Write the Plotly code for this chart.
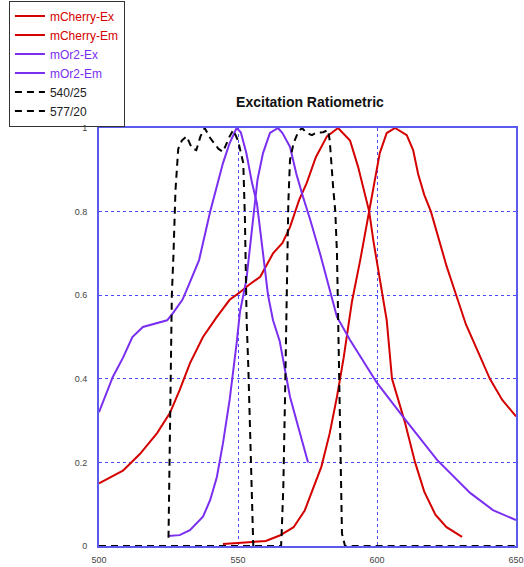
import plotly.graph_objects as go

# ---- data ----
mcherry_ex_x = [500, 508.6, 514.7, 520.9, 525.5, 529, 532.7, 537.4, 542.4, 547, 550.7, 554, 558, 562.6, 566,
                568.7, 572, 574.7, 578, 582, 586, 590.3, 593.2, 595, 597.2, 598.7, 600.5, 602.2, 603.5, 605.4,
                610, 613.7, 617, 621, 625, 630.6]
mcherry_ex_y = [0.15, 0.18, 0.22, 0.27, 0.318, 0.373, 0.437, 0.5, 0.548, 0.589, 0.607, 0.625, 0.644, 0.70, 0.725,
                0.763, 0.828, 0.868, 0.93, 0.98, 1.0, 0.97, 0.907, 0.86, 0.8, 0.73, 0.66, 0.589, 0.54, 0.40,
                0.297, 0.2, 0.13, 0.075, 0.045, 0.022]

mcherry_em_x = [544.6, 550, 555, 560, 565, 570, 574, 576, 578, 580, 583, 585.6, 588, 591, 594, 597.2, 599.3,
                601, 603.5, 606.5, 610.7, 613, 614.8, 617, 619.4, 622, 625, 628.5, 632, 636, 640.6,
                645, 650]
mcherry_em_y = [0.005, 0.007, 0.009, 0.012, 0.025, 0.045, 0.085, 0.12, 0.15, 0.19, 0.27, 0.357, 0.45, 0.585, 0.685,
                0.8, 0.876, 0.94, 0.988, 1.0, 0.983, 0.947, 0.89, 0.84, 0.8, 0.74, 0.67, 0.6, 0.53,
                0.47, 0.4, 0.35, 0.31]

mor2_ex_x = [500, 505, 508.6, 512, 515.8, 520.9, 524.5, 526.6, 530, 532, 536, 540, 542.4, 544.6, 547, 549.5,
             551, 553, 555, 556.8, 559, 560.8, 562.6, 565, 567.5, 568.7, 572, 575.2]
mor2_ex_y = [0.32, 0.405, 0.45, 0.5, 0.524, 0.533, 0.54, 0.557, 0.589, 0.62, 0.684, 0.8, 0.86, 0.916, 0.964, 1.0,
             0.99, 0.94, 0.87, 0.82, 0.70, 0.6, 0.54, 0.49, 0.40, 0.357, 0.277, 0.2]

mor2_em_x = [524.8, 529, 532.7, 537.4, 540, 542.4, 544.6, 547, 549.5, 550.7, 553, 555.4, 557, 559, 561.5, 564.4,
             566, 568.7, 571, 573.4, 576, 579.5, 583, 585.6, 590.3, 600, 609.4, 621.6, 633.5, 641.7, 650]
mor2_em_y = [0.024, 0.026, 0.038, 0.07, 0.11, 0.165, 0.246, 0.35, 0.485, 0.56, 0.636, 0.78, 0.876, 0.94, 0.988,
             1.0, 0.988, 0.955, 0.89, 0.835, 0.78, 0.70, 0.612, 0.548, 0.493, 0.39, 0.309, 0.206, 0.127, 0.086,
             0.062]

f540_x = [525, 525.3, 525.7, 526.2, 526.8, 527.5, 528.5, 529.8, 531.5, 533.4, 535, 536.5, 538, 540, 543, 544.6,
          547, 548.3, 550, 551.9, 552.5, 553.1, 553.7, 554.3, 554.9, 555.5, 557]
f540_y = [0.02, 0.2, 0.45, 0.6, 0.7, 0.85, 0.95, 0.97, 0.98, 0.952, 0.947, 0.98, 1.0, 0.976, 0.95, 0.943,
          0.98, 0.995, 0.97, 0.916, 0.78, 0.54, 0.43, 0.27, 0.11, 0.0, 0.0]

f577_x = [500, 565.5, 565.7, 566.3, 566.9, 567.5, 568.1, 568.7, 570, 571.6, 573, 574.7, 576.6, 578, 580.6, 582.4,
          583, 584.2, 585, 585.6, 586, 586.6, 587.4, 588.5, 650]
f577_y = [0, 0, 0.03, 0.14, 0.35, 0.59, 0.82, 0.923, 0.964, 0.99, 1.0, 0.988, 0.983, 0.988, 0.99, 0.995,
          0.97, 0.86, 0.8, 0.70, 0.54, 0.3, 0.03, 0, 0]

x_ticks = [500, 550, 600, 650]
y_ticks = [0, 0.2, 0.4, 0.6, 0.8, 1]
y_ticktext = ["0", "0.2", "0.4", "0.6", "0.8", "1"]

RED = "#d40000"
PURPLE = "#7a2ef0"
BLACK = "#000000"

def lab(t, c):
    return f"<span style='color:{c}'>{t}</span>"

fig = go.Figure()
fig.add_trace(go.Scatter(x=mcherry_ex_x, y=mcherry_ex_y, mode="lines", name=lab("mCherry-Ex", RED),
                         line=dict(color=RED, width=2)))
fig.add_trace(go.Scatter(x=mcherry_em_x, y=mcherry_em_y, mode="lines", name=lab("mCherry-Em", RED),
                         line=dict(color=RED, width=2)))
fig.add_trace(go.Scatter(x=mor2_ex_x, y=mor2_ex_y, mode="lines", name=lab("mOr2-Ex", PURPLE),
                         line=dict(color=PURPLE, width=2)))
fig.add_trace(go.Scatter(x=mor2_em_x, y=mor2_em_y, mode="lines", name=lab("mOr2-Em", PURPLE),
                         line=dict(color=PURPLE, width=2)))
fig.add_trace(go.Scatter(x=f540_x, y=f540_y, mode="lines", name=lab("540/25", "#222"),
                         line=dict(color=BLACK, width=2, dash="7px,5px")))
fig.add_trace(go.Scatter(x=f577_x, y=f577_y, mode="lines", name=lab("577/20", "#222"),
                         line=dict(color=BLACK, width=2, dash="7px,5px")))

fig.update_layout(
    width=524, height=567,
    margin=dict(l=99, r=8, t=128, b=21, autoexpand=False),
    paper_bgcolor="white", plot_bgcolor="white",
    font=dict(family="Liberation Sans, Arial, sans-serif", size=9, color="#444"),
    title=dict(text="<b>Excitation Ratiometric</b>", x=(310 / 524), xanchor="center",
               y=(567 - 102) / 567, yanchor="middle",
               font=dict(size=14, color="#111", family="Liberation Sans, Arial, sans-serif")),
    showlegend=True,
    legend=dict(x=-0.216, y=1.305, xanchor="left", yanchor="top",
                bordercolor="#333", borderwidth=1, bgcolor="rgba(255,255,255,0)",
                font=dict(size=12, color="#222", family="Liberation Sans, Arial, sans-serif"),
                tracegroupgap=0, itemwidth=30, entrywidth=100, entrywidthmode="pixels"),
)
fig.update_xaxes(range=[500, 650], tickvals=x_ticks, ticks="", showgrid=True,
                 gridcolor="#4a4aff", griddash="dot", gridwidth=1,
                 showline=True, linecolor="#5a5aee", linewidth=2, mirror=True, zeroline=False,
                 tickfont=dict(size=9, color="#444"), ticklabelstandoff=4, automargin=False)
fig.update_yaxes(range=[0, 1], tickvals=y_ticks, ticktext=y_ticktext, ticks="", showgrid=True,
                 gridcolor="#4a4aff", griddash="dot", gridwidth=1,
                 showline=True, linecolor="#5a5aee", linewidth=2, mirror=True, zeroline=False,
                 tickfont=dict(size=9, color="#444"), ticklabelstandoff=8, automargin=False)

fig.write_html("out.html", config={"displayModeBar": False},
               post_script="document.body.style.margin='0px';")
